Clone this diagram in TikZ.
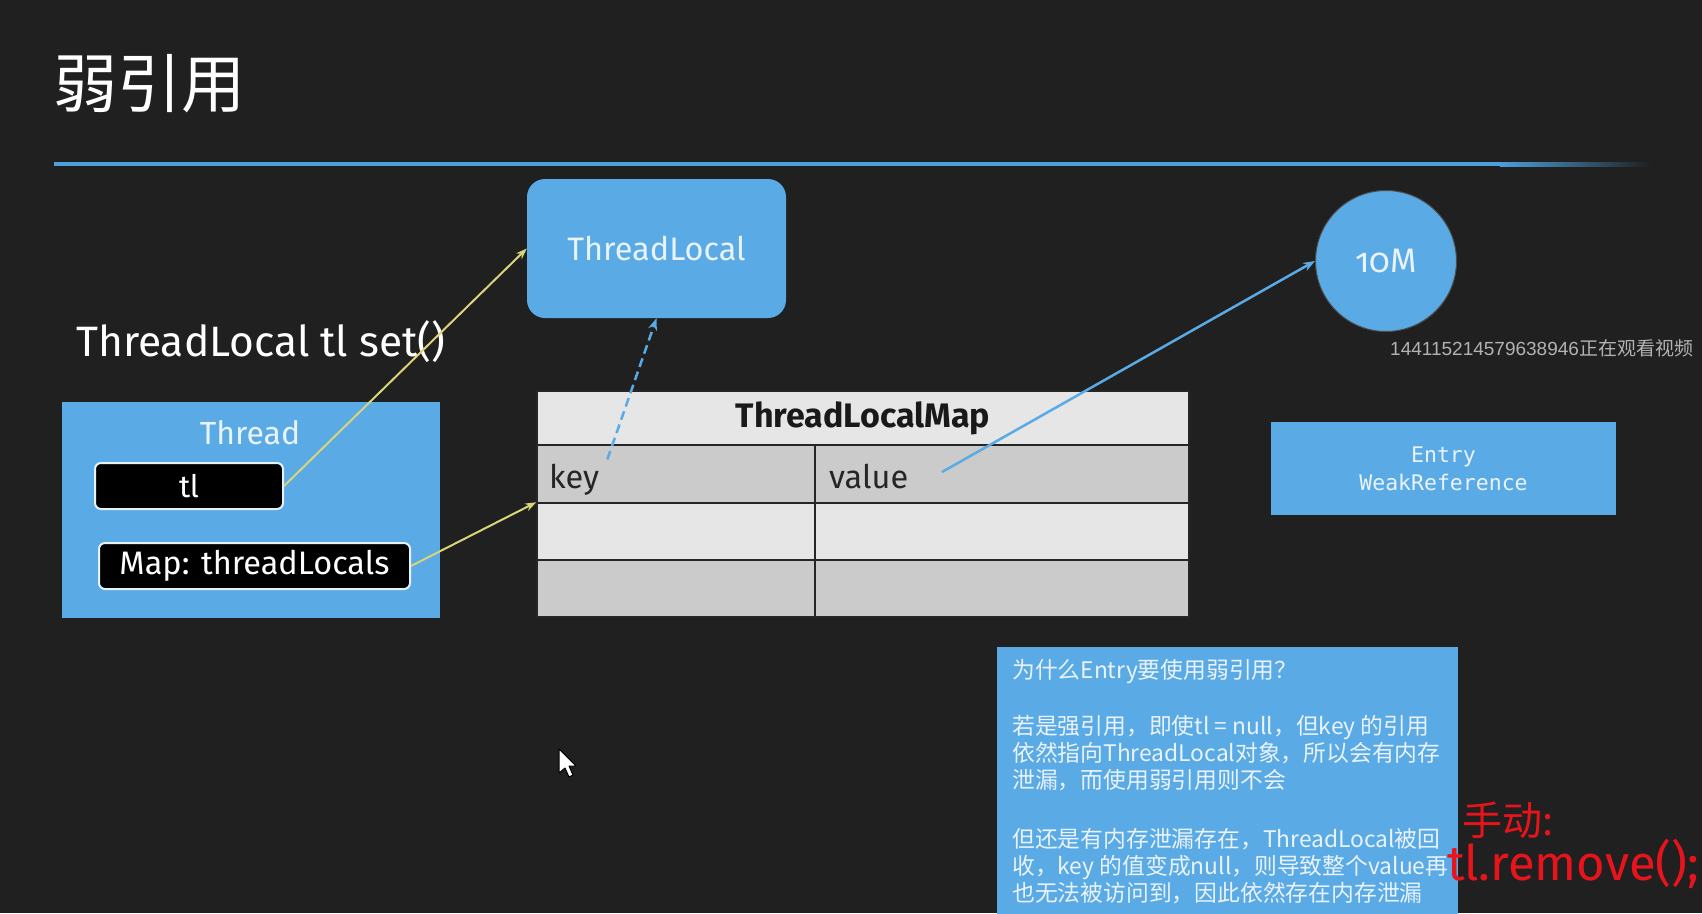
\documentclass[tikz,border=0pt]{standalone}
\usepackage{fontspec}
\setmainfont{Fira Sans}
\newfontfamily\cjk{Noto Sans CJK SC}
\newfontfamily\monofont{DejaVu Sans Mono}
\newfontfamily\digitfont{Liberation Sans}
\usetikzlibrary{arrows.meta,calc}

\definecolor{board}{HTML}{202020}
\definecolor{slideblue}{HTML}{5AAAE6}
\definecolor{rulecol}{HTML}{4A9FDC}
\definecolor{pale}{HTML}{D8D47A}
\definecolor{cellA}{HTML}{E6E6E6}
\definecolor{cellB}{HTML}{CBCBCB}
\definecolor{ink}{HTML}{EAF3FB}
\definecolor{marker}{HTML}{E8141B}

\begin{document}
\begin{tikzpicture}[x=1pt,y=-1pt,
  bluebox/.style={fill=slideblue, text=ink, inner sep=0pt},
  pill/.style={fill=black, draw=white!85!slideblue, line width=2pt, rounded corners=6pt,
    text=white, inner sep=0pt, font=\fontsize{31}{36}\selectfont},
  cell/.style={draw=black!85, line width=1.5pt, inner sep=0pt},
  celltext/.style={text=black!85, font=\fontsize{32.5}{36}\selectfont, inner sep=0pt, anchor=base west},
  linkyellow/.style={draw=pale, line width=2pt, -{Stealth[length=11pt,width=8pt]}},
  linkblue/.style={draw=slideblue, line width=2.5pt, -{Stealth[length=12pt,width=9pt]}},
]
% page and chalkboard
\useasboundingbox (0,0) rectangle (1702,913);
\clip (0,0) rectangle (1702,913);
\fill[board] (0,0) rectangle (1702,913);

% heading and rule
\node[anchor=west, inner sep=0pt, text=white, font=\cjk\fontsize{64}{72}\selectfont] (title) at (53,84) {弱引用};
\draw[rulecol, line width=4pt] (54,164) -- (1500,164);
\shade[left color=rulecol, right color=board] (1500,162) rectangle (1650,166);

% ThreadLocal object
\node[bluebox, rounded corners=18pt, minimum width=259pt, minimum height=139pt,
  font=\fontsize{32.5}{36}\selectfont] (tlocal) at (656.5,248.5) {ThreadLocal};

\node[anchor=base west, inner sep=0pt, text=white, font=\fontsize{42.5}{48}\selectfont] (call) at (76,356) {ThreadLocal tl set()};

% Thread with its fields
\node[bluebox, minimum width=378pt, minimum height=216pt] (thread) at (251,510) {};
\node[anchor=base, inner sep=0pt, text=ink, font=\fontsize{32}{36}\selectfont] (threadlbl) at (250,444) {Thread};
\node[pill, minimum width=188pt, minimum height=46pt] (tlbox) at (189,486) {tl};
\node[pill, minimum width=311pt, minimum height=46pt, font=\fontsize{32.5}{36}\selectfont] (mapbox) at (254.5,566) {Map: threadLocals};

% ThreadLocalMap table
\node[cell, fill=cellA, minimum width=652pt, minimum height=54pt,
  font=\bfseries\fontsize{34}{38}\selectfont, text=black!90] (head) at (863,418) {ThreadLocalMap};
\node[cell, fill=cellB, minimum width=278pt, minimum height=58pt] (r1k) at (676,474) {};
\node[cell, fill=cellB, minimum width=374pt, minimum height=58pt] (r1v) at (1002,474) {};
\node[cell, fill=cellA, minimum width=278pt, minimum height=57pt] (r2k) at (676,531.5) {};
\node[cell, fill=cellA, minimum width=374pt, minimum height=57pt] (r2v) at (1002,531.5) {};
\node[cell, fill=cellB, minimum width=278pt, minimum height=57pt] (r3k) at (676,588.5) {};
\node[cell, fill=cellB, minimum width=374pt, minimum height=57pt] (r3v) at (1002,588.5) {};
\node[celltext] (keytxt) at (549,488) {key};
\node[celltext] (valtxt) at (829,488) {value};
\coordinate (valref) at (942,472);

% value object
\node[circle, fill=slideblue, draw=black!70, line width=1pt, minimum size=141pt, inner sep=0pt,
  text=ink, font=\fontsize{34}{38}\selectfont\addfontfeatures{Numbers=OldStyle}] (big) at (1386,261) {10M};

% viewer overlay
\node[anchor=base west, inner sep=0pt, text=black!30, font=\fontsize{19}{24}\selectfont] (viewer) at (1390,355)
  {\digitfont 144115214579638946\cjk 正在观看视频};

% Entry class
\node[bluebox, minimum width=345pt, minimum height=93pt, align=center,
  font=\monofont\fontsize{21.5}{28}\selectfont] (entry) at (1443.5,468.5) {Entry\\WeakReference};

% explanation
\node[bluebox, anchor=north west, minimum width=461pt, minimum height=300pt] (note) at (996.5,647) {};
\node[anchor=north west, inner sep=0pt, align=left, text=ink, font=\cjk\fontsize{22.8}{27}\selectfont] (notetxt) at (1012,659)
  {为什么Entry要使用弱引用？\\[29pt]
   若是强引用，即使tl = null，但key 的引用\\
   依然指向ThreadLocal对象，所以会有内存\\
   泄漏，而使用弱引用则不会\\[32pt]
   但还是有内存泄漏存在，ThreadLocal被回\\
   收，key 的值变成null，则导致整个value再\\
   也无法被访问到，因此依然存在内存泄漏};

% handwritten note
\node[anchor=west, inner sep=0pt, text=marker, font=\cjk\fontsize{40}{44}\selectfont] (hand1) at (1462,820) {手动:};
\node[anchor=west, inner sep=0pt, text=marker, font=\fontsize{49}{52}\selectfont] (hand2) at (1447,864) {tl.remove();};

% references
\draw[linkyellow] (tlbox.east) -- (tlocal.west);
\draw[linkyellow] (mapbox.east) -- (r2k.north west);
\draw[linkblue, dash pattern=on 9pt off 5pt] (keytxt.north east) ++(8,-4) -- (tlocal.south);
\draw[linkblue] (valref) -- (big.west);

% mouse pointer
\draw[fill=white, draw=black, line width=1pt, line join=round]
  (559,749) -- (559,773) -- (565,768) -- (569,777) -- (573,775) -- (569,766) -- (576,766) -- cycle;
\end{tikzpicture}
\end{document}
